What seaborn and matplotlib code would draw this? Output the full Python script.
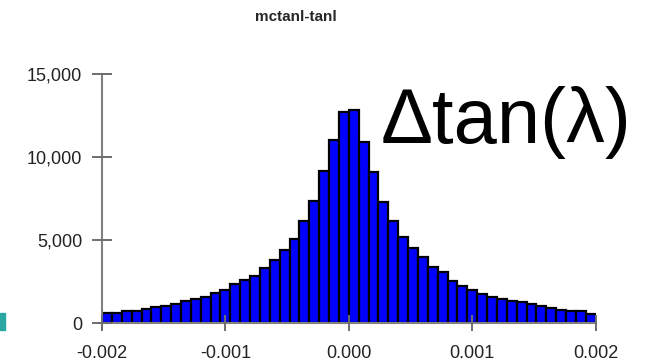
import numpy as np
import pandas as pd
import matplotlib
matplotlib.use("Agg")
import matplotlib.pyplot as plt
from matplotlib.ticker import FuncFormatter
from matplotlib.patches import Rectangle
import seaborn as sns

# Histogram of mctanl - tanl: 50 equal bins over [-0.002, 0.002]
x_range = (-0.002, 0.002)
n_bins = 50
counts = [600, 580, 730, 710, 860, 970, 1040, 1170, 1310, 1460,
          1580, 1780, 1980, 2350, 2620, 2850, 3300, 3780, 4380, 5080,
          6130, 7370, 9150, 11030, 12730, 12830, 10920, 9080, 7270, 6150,
          5160, 4500, 3960, 3390, 3090, 2550, 2230, 2000, 1760, 1560,
          1450, 1350, 1250, 1160, 1000, 900, 800, 700, 740, 560]

x_ticks = [-0.002, -0.001, 0.0, 0.001, 0.002]
y_ticks = [0, 5000, 10000, 15000]
title = "mctanl-tanl"
annotation = "\u0394tan(\u03bb)"

edges = np.linspace(x_range[0], x_range[1], n_bins + 1)
centers = 0.5 * (edges[:-1] + edges[1:])
df = pd.DataFrame({"delta": centers, "count": counts})

sns.set_theme(style="white")
plt.rcParams["font.family"] = ["Liberation Sans", "DejaVu Sans"]

fig = plt.figure(figsize=(6.62, 3.64), dpi=100)
ax = fig.add_axes([0.1541, 0.1126, 0.7457, 0.6841])

sns.histplot(data=df, x="delta", weights="count", bins=n_bins,
             binrange=x_range, ax=ax,
             color="#0000ff", alpha=1.0, edgecolor="black", linewidth=1.6)

ax.set_xlim(x_range)
ax.set_ylim(0, 15000)
ax.set_xticks(x_ticks)
ax.set_yticks(y_ticks)
ax.xaxis.set_major_formatter(FuncFormatter(lambda v, p: f"{v:.3f}" if abs(v) > 1e-12 else "0.000"))
ax.yaxis.set_major_formatter(FuncFormatter(lambda v, p: f"{int(round(v)):,}"))
ax.set_xlabel("")
ax.set_ylabel("")

for side in ("top", "right"):
    ax.spines[side].set_visible(False)
for side in ("left", "bottom"):
    ax.spines[side].set_color("#808080")
    ax.spines[side].set_linewidth(1.5)

ax.tick_params(axis="y", left=True, direction="inout", length=14.5, width=1.4,
               color="#6e6e6e", pad=7, labelsize=13, labelcolor="#222222")
ax.tick_params(axis="x", bottom=True, direction="inout", length=12, width=1.4,
               color="#6e6e6e", pad=10, labelsize=13, labelcolor="#222222")
ax.set_axisbelow(False)

fig.text(296 / 662, 1 - 17 / 364, title, ha="center", va="center",
         fontsize=11, fontweight="bold",
         family=["Liberation Sans", "DejaVu Sans"])

fig.text(381 / 662, 1 - 143 / 364, annotation, ha="left", va="baseline",
         fontsize=56, color="black",
         family=["Liberation Sans", "DejaVu Sans"])

# slide edge fragment on the left border
fig.patches.append(Rectangle((0, 1 - 330 / 364), 5 / 662, 17 / 364,
                             transform=fig.transFigure, color="#2aa7a3",
                             zorder=0))

fig.savefig("out.png", dpi=100)
